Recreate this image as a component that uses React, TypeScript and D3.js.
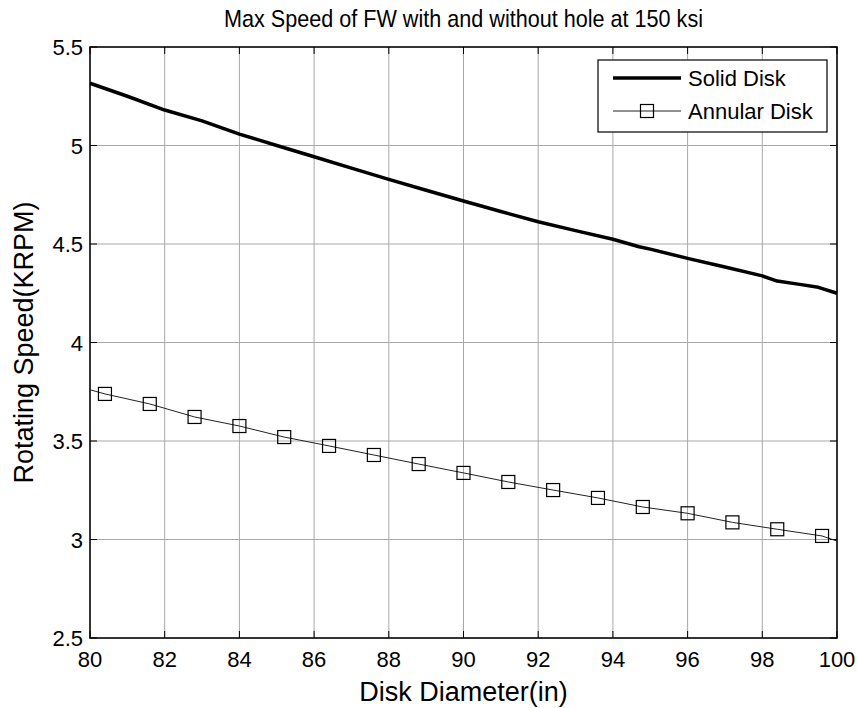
import React from "react";
import * as d3 from "d3";

const titleText = "Max Speed of FW with and without hole at 150 ksi";
const xLabel = "Disk Diameter(in)";
const yLabel = "Rotating Speed(KRPM)";

const xTicks = [80, 82, 84, 86, 88, 90, 92, 94, 96, 98, 100];
const yTicks = [2.5, 3, 3.5, 4, 4.5, 5, 5.5];

const solidDiameter = [80, 81, 82, 83, 84, 85, 86, 87, 88, 89, 90, 91, 92, 93, 94, 94.7, 95, 96, 97, 98, 98.4, 99, 99.5, 100];
const solidSpeed = [5.316, 5.25, 5.18, 5.125, 5.058, 5.0, 4.943, 4.885, 4.828, 4.773, 4.718, 4.665, 4.613, 4.568, 4.524, 4.486, 4.474, 4.427, 4.383, 4.338, 4.312, 4.295, 4.28, 4.25];

const annularDiameter = [80, 80.4, 81.6, 82.8, 84, 85.2, 86.4, 87.6, 88.8, 90, 91.2, 92.4, 93.6, 94.8, 96, 97.2, 98.4, 99.6, 100];
const annularSpeed = [3.76, 3.739, 3.688, 3.622, 3.576, 3.52, 3.475, 3.429, 3.383, 3.338, 3.292, 3.251, 3.211, 3.165, 3.133, 3.087, 3.052, 3.018, 2.992];

const FONT = "'Liberation Sans', Arial, sans-serif";

export default function App() {
  const W = 858, H = 708;
  const left = 90, right = 837, top = 47, bottom = 638;
  const x = d3.scaleLinear().domain([80, 100]).range([left, right]);
  const y = d3.scaleLinear().domain([2.5, 5.5]).range([bottom, top]);
  const line = d3.line<[number, number]>().x(d => x(d[0])).y(d => y(d[1]));
  const solidPts: [number, number][] = solidDiameter.map((d, i) => [d, solidSpeed[i]]);
  const annPts: [number, number][] = annularDiameter.map((d, i) => [d, annularSpeed[i]]);
  const markerPts = annPts.slice(1, annPts.length - 1);
  const tl = 7;
  const ms = 13;
  const legL = 598, legR = 827, legT = 60, legB = 132;
  return (
    <svg width={W} height={H} style={{ position: "absolute", left: 0, top: 0, background: "#fff" }} fontFamily={FONT}>
      <rect x={0} y={0} width={W} height={H} fill="#fff" />
      {/* grid */}
      {xTicks.map(t => (
        <line key={"gx" + t} x1={x(t)} x2={x(t)} y1={top} y2={bottom} stroke="#a8a8a8" strokeWidth={1} />
      ))}
      {yTicks.map(t => (
        <line key={"gy" + t} x1={left} x2={right} y1={y(t)} y2={y(t)} stroke="#a8a8a8" strokeWidth={1} />
      ))}
      {/* ticks */}
      {xTicks.map(t => (
        <g key={"tx" + t}>
          <line x1={x(t)} x2={x(t)} y1={bottom} y2={bottom - tl} stroke="#000" />
          <line x1={x(t)} x2={x(t)} y1={top} y2={top + tl} stroke="#000" />
          <text x={x(t)} y={667} fontSize={22} textAnchor="middle" fill="#000">{t}</text>
        </g>
      ))}
      {yTicks.map(t => (
        <g key={"ty" + t}>
          <line x1={left} x2={left + tl} y1={y(t)} y2={y(t)} stroke="#000" />
          <line x1={right} x2={right - tl} y1={y(t)} y2={y(t)} stroke="#000" />
          <text x={83} y={y(t) + 8} fontSize={22} textAnchor="end" fill="#000">{t}</text>
        </g>
      ))}
      {/* axes box */}
      <rect x={left} y={top} width={right - left} height={bottom - top} fill="none" stroke="#000" strokeWidth={1.5} />
      {/* series */}
      <path d={line(solidPts) || ""} fill="none" stroke="#000" strokeWidth={3.5} strokeLinejoin="round" />
      <path d={line(annPts) || ""} fill="none" stroke="#222" strokeWidth={1} />
      {markerPts.map((p, i) => (
        <rect key={"m" + i} x={x(p[0]) - ms / 2} y={y(p[1]) - ms / 2} width={ms} height={ms} fill="none" stroke="#000" strokeWidth={1.2} />
      ))}
      {/* legend */}
      <rect x={legL} y={legT} width={legR - legL} height={legB - legT} fill="#fff" stroke="#000" strokeWidth={1.2} />
      <line x1={613} x2={681} y1={78} y2={78} stroke="#000" strokeWidth={3.5} />
      <text x={688} y={86} fontSize={22} fill="#000">Solid Disk</text>
      <line x1={613} x2={681} y1={111} y2={111} stroke="#222" strokeWidth={1} />
      <rect x={647 - ms / 2} y={111 - ms / 2} width={ms} height={ms} fill="none" stroke="#000" strokeWidth={1.2} />
      <text x={688} y={119} fontSize={22} fill="#000">Annular Disk</text>
      {/* labels */}
      <text transform={`translate(${(left + right) / 2},27) scale(0.9,1)`} fontSize={24} textAnchor="middle" fill="#000">{titleText}</text>
      <text x={(left + right) / 2} y={701} fontSize={27} textAnchor="middle" fill="#000">{xLabel}</text>
      <text transform={`translate(33,${(top + bottom) / 2}) rotate(-90)`} fontSize={27} textAnchor="middle" fill="#000">{yLabel}</text>
    </svg>
  );
}
